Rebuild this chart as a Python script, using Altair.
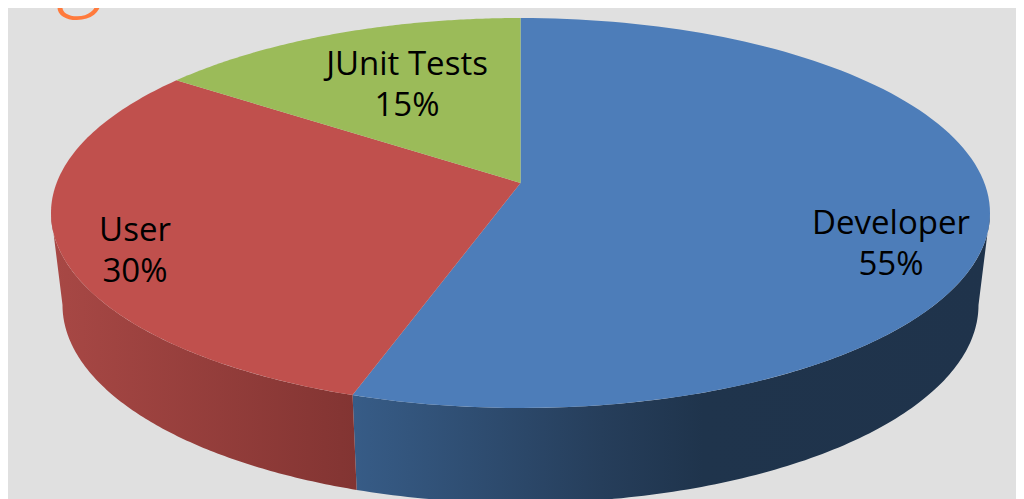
import math
import altair as alt

# Data
categories = ["Developer", "User", "JUnit Tests"]
shares = [55, 30, 15]
top_colours = ["#4D7DB9", "#C0504D", "#9BBB59"]

# Pie geometry (picture pixels): tilted disc seen in perspective
TOP = dict(cx=520.5, cy=213.0, a=469.5, b=195.0)
BOTTOM = dict(cx=520.5, cy=305.0, a=458.0, b=198.0)
SHIFT = 0.154  # how far the disc centre moves towards the back in perspective
OFFSET = 8


def rim(deg, e):
    t = math.radians(deg)
    s, c = math.sin(t), math.cos(t)
    k = 1 + SHIFT * c
    x = s * math.sqrt(1 - SHIFT ** 2) / k
    y = (c + SHIFT) / k
    return [e["cx"] + e["a"] * x, e["cy"] - e["b"] * y]


def arc(d0, d1, e, n=120):
    return [rim(d0 + (d1 - d0) * i / n, e) for i in range(n + 1)]


def feature(name, ring):
    return {
        "type": "Feature",
        "properties": {"name": name},
        "geometry": {"type": "Polygon", "coordinates": [ring + [ring[0]]]},
    }


# Slices from the shares
edges = [0]
for v in shares:
    edges.append(edges[-1] + v * 3.6)
apex = [TOP["cx"], TOP["cy"] - SHIFT * TOP["b"]]
top_faces = [
    feature(n, [apex] + arc(edges[i], edges[i + 1], TOP))
    for i, n in enumerate(categories)
]

# Rim angle at which the disc is widest, where the wall outline starts
side = math.degrees(math.acos(-SHIFT))


def wall(d0, d1):
    return arc(d0, d1, TOP) + arc(d1, d0, BOTTOM)


blue_wall = [feature("Developer", wall(side, edges[1]))]
red_wall = [feature("User", wall(edges[1], 360 - side))]

proj = alt.Projection(type="identity", scale=1, translate=[-OFFSET, -OFFSET])


def gradient(stops):
    return alt.LinearGradient(
        gradient="linear", x1=0, x2=1, y1=0, y2=0,
        stops=[alt.GradientStop(offset=o, color=c) for o, c in stops],
    )


blue_layer = alt.Chart(alt.Data(values=blue_wall)).mark_geoshape(
    strokeWidth=0,
    fill=gradient([(0, "#375C87"), (0.39, "#263E5B"), (0.55, "#1F344C"), (1, "#1F334B")]),
).project(**proj.to_dict())

red_layer = alt.Chart(alt.Data(values=red_wall)).mark_geoshape(
    strokeWidth=0,
    fill=gradient([(0, "#A84845"), (1, "#823432")]),
).project(**proj.to_dict())

top_layer = alt.Chart(alt.Data(values=top_faces)).mark_geoshape(strokeWidth=0).encode(
    color=alt.Color(
        "properties.name:N",
        scale=alt.Scale(domain=categories, range=top_colours),
        legend=None,
    )
).project(**proj.to_dict())

# Labels
label_texts = [f"{n}\n{v}%" for n, v in zip(categories, shares)]
label_x = [891, 135, 407]
label_y = [234, 241, 75]

labels = []
for t, x, y in zip(label_texts, label_x, label_y):
    labels.append(
        alt.Chart(alt.Data(values=[{"label": t}])).mark_text(
            font="Open Sans", fontSize=33, color="#000000", align="center",
            baseline="alphabetic", lineBreak="\n", lineHeight=41,
        ).encode(text="label:N", x=alt.value(x - OFFSET), y=alt.value(y - OFFSET))
    )

# Cropped orange handwritten heading at the top edge
heading = alt.Chart(alt.Data(values=[{"label": "ga"}])).mark_text(
    font="Lato", fontStyle="italic", fontWeight=300, fontSize=108, color="#FF7A3C",
    align="left", baseline="alphabetic",
).encode(text="label:N", x=alt.value(60 - OFFSET), y=alt.value(0 - OFFSET))

chart = alt.layer(blue_layer, red_layer, top_layer, *labels, heading).properties(
    width=1008, height=491, background="#E0E0E0", padding=0,
    autosize=alt.AutoSizeParams(type="none"),
).configure_view(strokeWidth=0)

chart.save("out.html", embed_options={"renderer": "svg", "actions": False})
